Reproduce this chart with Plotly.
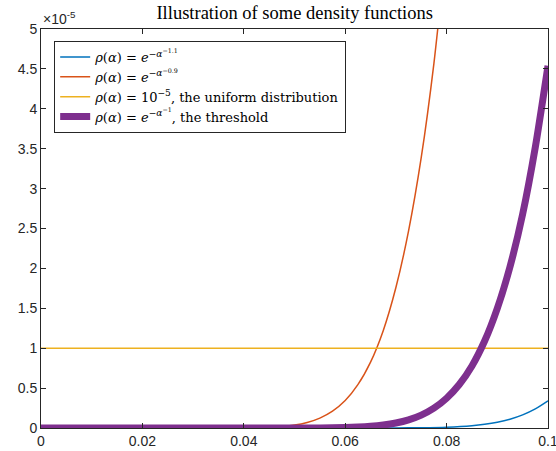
import plotly.graph_objects as go

# values in units of 1e-5
x_blue = [0, 0.05, 0.06, 0.065, 0.07, 0.075, 0.08, 0.085, 0.0875, 0.09, 0.0925, 0.095, 0.0975, 0.1]
y_blue = [0, 0, 0.00003, 0.0002, 0.0008, 0.0031, 0.0103, 0.0291, 0.0466, 0.0724, 0.110, 0.164, 0.239, 0.340]

x_orange = [0, 0.03, 0.04, 0.045, 0.05, 0.0525, 0.055, 0.0575, 0.06, 0.0625, 0.065, 0.0675, 0.07, 0.0725, 0.075, 0.0775, 0.08]
y_orange = [0, 0, 0.0013, 0.0083, 0.0366, 0.069, 0.124, 0.211, 0.344, 0.543, 0.826, 1.22, 1.76, 2.47, 3.39, 4.57, 6.06]

x_yellow = [0, 0.1]
y_yellow = [1, 1]

x_purple = [0, 0.04, 0.05, 0.055, 0.06, 0.0625, 0.065, 0.0675, 0.07, 0.0725, 0.075, 0.0775, 0.08, 0.0825, 0.085, 0.0875, 0.09, 0.0925, 0.095, 0.0975, 0.1]
y_purple = [0, 0, 0.0002, 0.0013, 0.0058, 0.0113, 0.0208, 0.0368, 0.0623, 0.102, 0.162, 0.249, 0.373, 0.545, 0.778, 1.09, 1.50, 2.02, 2.68, 3.52, 4.54]

x_ticks = [0, 0.02, 0.04, 0.06, 0.08, 0.1]
x_ticklabels = ["0", "0.02", "0.04", "0.06", "0.08", "0.1"]
y_ticks = [0, 0.5, 1, 1.5, 2, 2.5, 3, 3.5, 4, 4.5, 5]
y_ticklabels = ["0", "0.5", "1", "1.5", "2", "2.5", "3", "3.5", "4", "4.5", "5"]

names = [
    "<i>ρ</i>(<i>α</i>) = <i>e</i><sup>−<i>α</i><sup>−1.1</sup></sup>",
    "<i>ρ</i>(<i>α</i>) = <i>e</i><sup>−<i>α</i><sup>−0.9</sup></sup>",
    "<i>ρ</i>(<i>α</i>) = 10<sup>−5</sup>, the uniform distribution",
    "<i>ρ</i>(<i>α</i>) = <i>e</i><sup>−<i>α</i><sup>−1</sup></sup>, the threshold",
]

fig = go.Figure()
fig.add_trace(go.Scatter(x=x_blue, y=y_blue, mode="lines", name=names[0],
                         line=dict(color="#0072BD", width=1.5, shape="spline", smoothing=0.6)))
fig.add_trace(go.Scatter(x=x_orange, y=y_orange, mode="lines", name=names[1],
                         line=dict(color="#D95319", width=1.5, shape="spline", smoothing=0.6)))
fig.add_trace(go.Scatter(x=x_yellow, y=y_yellow, mode="lines", name=names[2],
                         line=dict(color="#EDB120", width=1.5)))
fig.add_trace(go.Scatter(x=x_purple, y=y_purple, mode="lines", name=names[3],
                         line=dict(color="#7E2F8E", width=7, shape="spline", smoothing=0.6)))

axis_common = dict(showline=True, linecolor="#262626", linewidth=1, mirror="ticks",
                   ticks="inside", ticklen=5, tickcolor="#262626", showgrid=False,
                   zeroline=False, automargin=False, ticklabeloverflow="allow",
                   tickfont=dict(family="Liberation Sans, Arial", size=14, color="#262626"))

fig.update_layout(
    width=556, height=451,
    margin=dict(l=41, r=8, t=29, b=23),
    paper_bgcolor="white", plot_bgcolor="white",
    title=dict(text="Illustration of some density functions", x=0.53, xanchor="center",
               y=0.972, yanchor="middle",
               font=dict(family="Liberation Serif, Times New Roman, serif", size=18.5, color="black")),
    xaxis=dict(range=[0, 0.1000001], tickvals=x_ticks, ticktext=x_ticklabels, **axis_common),
    yaxis=dict(range=[0, 5], tickvals=y_ticks, ticktext=y_ticklabels, **axis_common),
    legend=dict(x=0.026, y=0.97, xanchor="left", yanchor="top",
                bordercolor="#262626", borderwidth=1, bgcolor="white",
                font=dict(family="DejaVu Serif, serif", size=13, color="black"),
                tracegroupgap=0, itemwidth=30),
    showlegend=True,
)
fig.add_annotation(text="×10<sup>-5</sup>", xref="paper", yref="paper", x=0.0, y=1.0,
                   xanchor="left", yanchor="bottom", showarrow=False,
                   font=dict(family="Liberation Sans, Arial", size=14, color="#262626"))

fig.write_html("out.html")
